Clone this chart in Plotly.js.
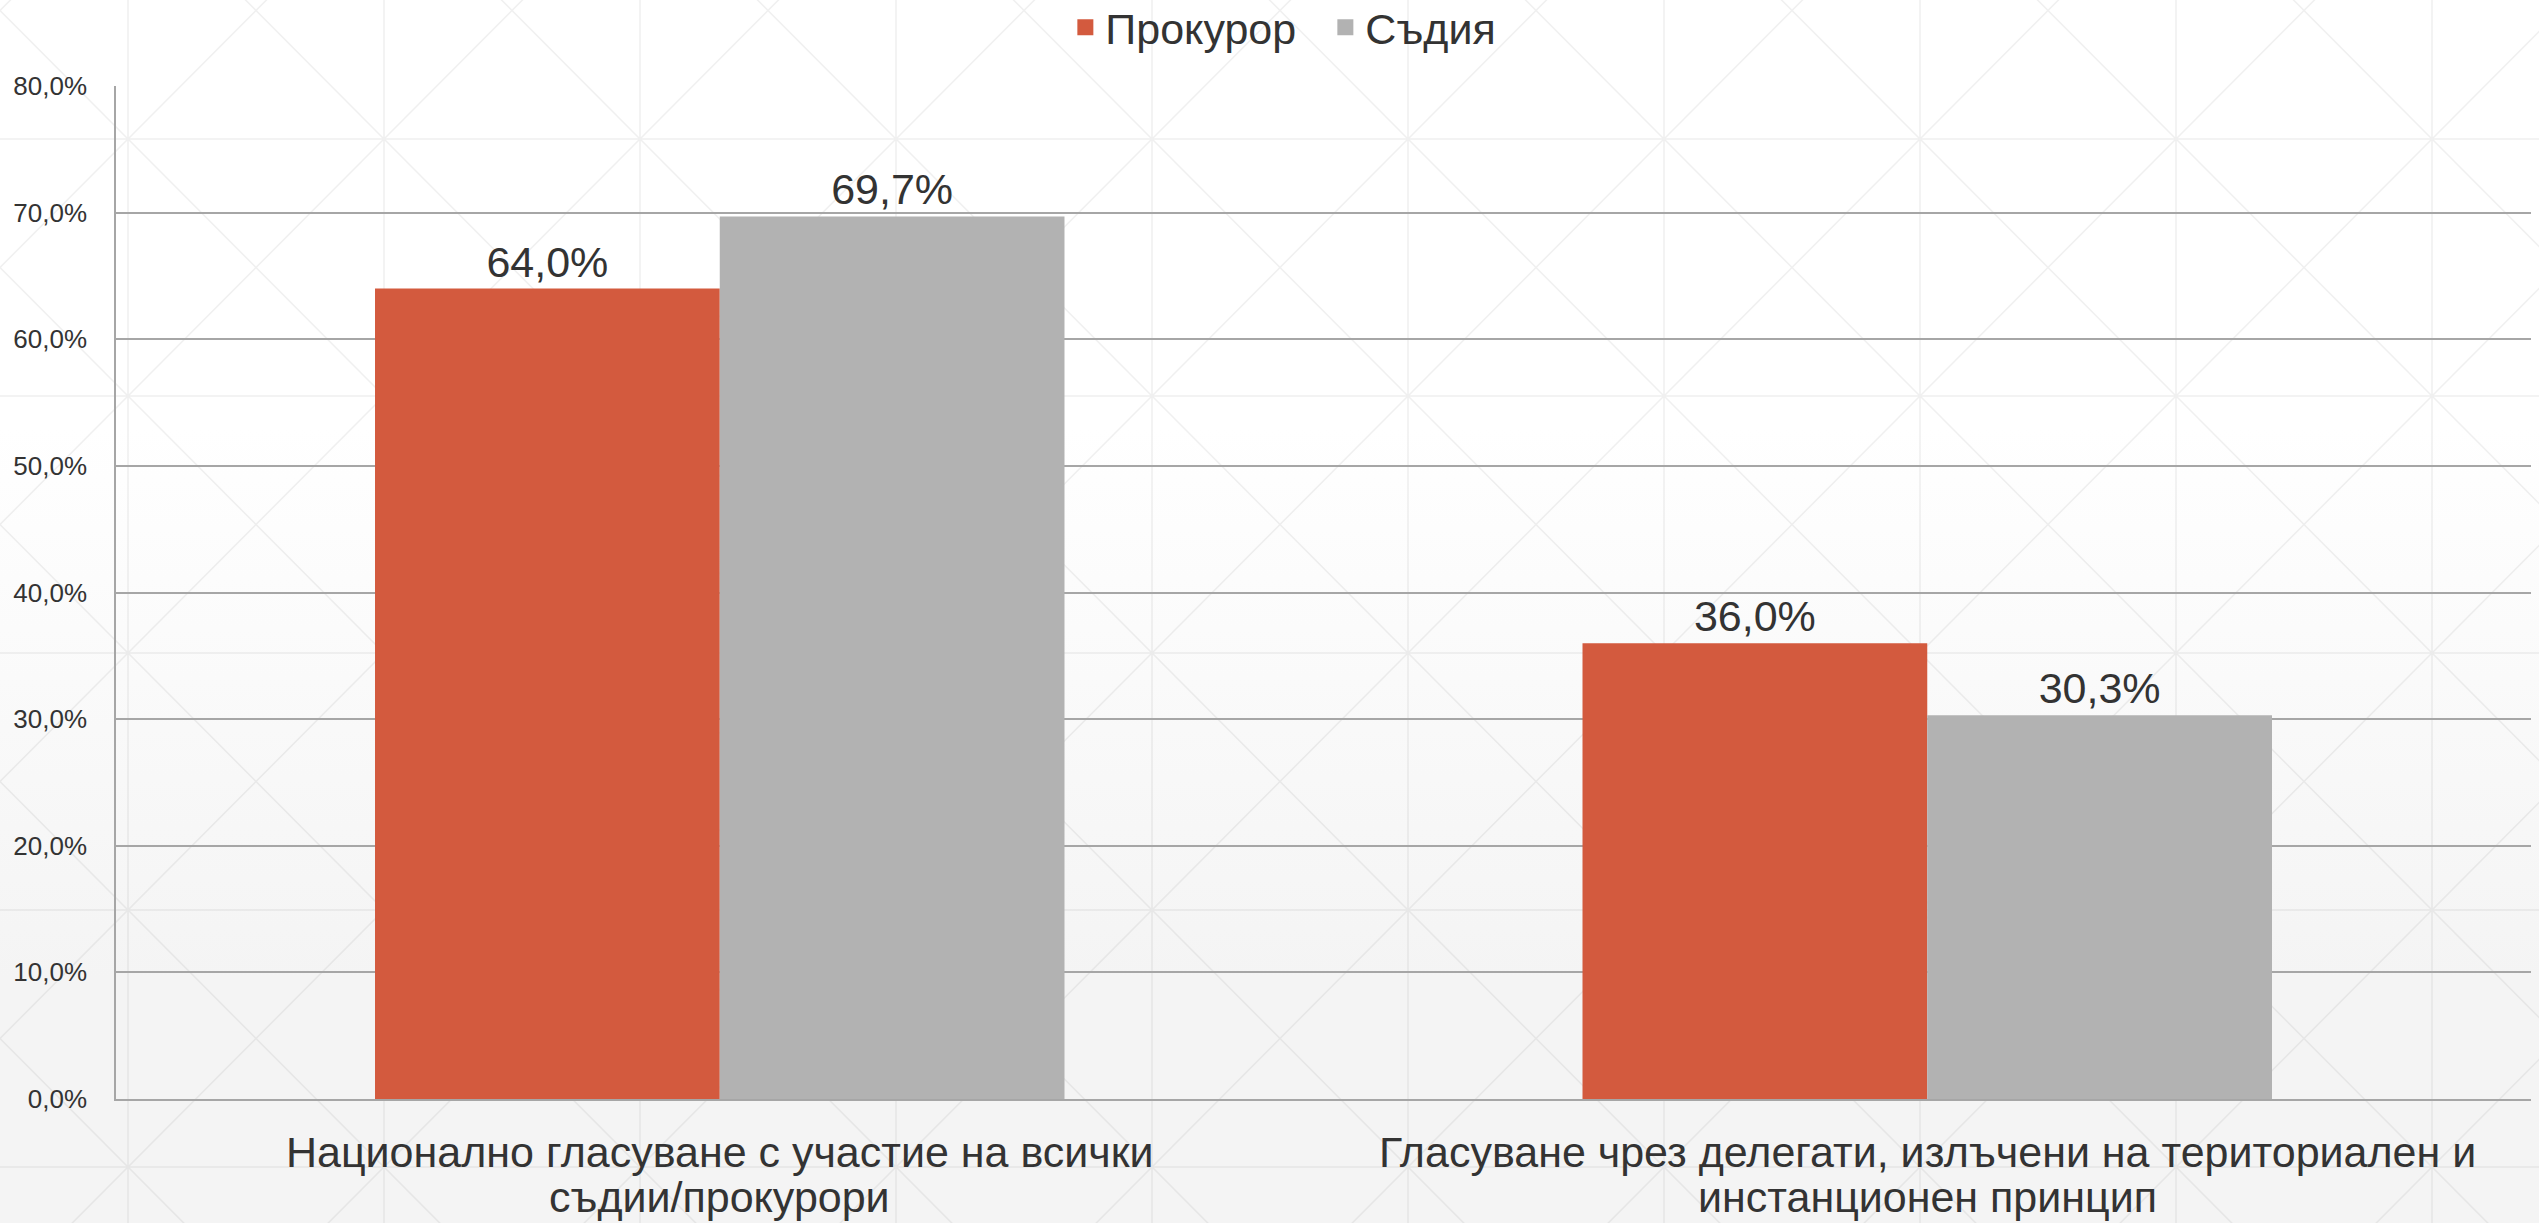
<!DOCTYPE html>
<html>
<head>
<meta charset="utf-8">
<script src="https://cdn.plot.ly/plotly-3.0.1.min.js"></script>
<style>
html, body { margin: 0; padding: 0; background: #ffffff; }
#chart {
  width: 2539px; height: 1223px;
  background-image:
    url("data:image/svg+xml,%3Csvg xmlns='http://www.w3.org/2000/svg' width='256' height='257'%3E%3Cg stroke='rgba(0,0,0,0.06)' stroke-width='1.5' fill='none'%3E%3Cpath d='M0 0V257M256 0V257M0 0H256M0 257H256M0 0L256 257M256 0L0 257'/%3E%3C/g%3E%3C/svg%3E"),
    linear-gradient(to bottom, #ffffff 0%, #ffffff 35%, #f4f4f4 80%, #f4f4f4 100%);
  background-position: 128px 139px, 0 0;
  background-size: 256px 257px, 100% 100%;
}
</style>
</head>
<body>
<div id="chart"></div>
<script>
// ---- data ----
const categories = [
  "Национално гласуване с участие на всички<br>съдии/прокурори",
  "Гласуване чрез делегати, излъчени на териториален и<br>инстанционен принцип"
];
const seriesNames = ["Прокурор", "Съдия"];
const prosecutorValues = [0.640, 0.360];
const judgeValues = [0.697, 0.303];
const seriesColors = ["#D35A3E", "#B2B2B2"];
const yTickValues = [0, 0.1, 0.2, 0.3, 0.4, 0.5, 0.6, 0.7, 0.8];

const FONT = "Liberation Sans, Arial, sans-serif";
const TEXT = "#333333";

const traces = [prosecutorValues, judgeValues].map((vals, i) => ({
  type: "bar",
  name: seriesNames[i],
  legendgroup: seriesNames[i],
  showlegend: false,
  x: categories,
  y: vals,
  marker: { color: seriesColors[i] },
  texttemplate: "%{y:.1%}",
  textposition: "outside",
  textfont: { family: FONT, size: 43, color: TEXT },
  cliponaxis: false,
  hoverinfo: "skip"
}));

// legend entries with larger square swatches
seriesNames.forEach((name, i) => {
  traces.push({
    type: "scatter",
    mode: "markers",
    name: name,
    legendgroup: name,
    showlegend: true,
    x: [null], y: [null],
    marker: { symbol: "square", size: 20, color: seriesColors[i] },
    hoverinfo: "skip"
  });
});

// category labels drawn line by line below the axis
const annotations = [];
categories.forEach(cat => {
  cat.split("<br>").forEach((line, j) => {
    annotations.push({
      x: cat, y: 0, xref: "x", yref: "y",
      text: line, showarrow: false,
      xanchor: "center", yanchor: "middle",
      yshift: -53 - 45 * j,
      font: { family: FONT, size: 43, color: TEXT }
    });
  });
});

const layout = {
  width: 2539, height: 1223,
  margin: { l: 116, r: 8, t: 86, b: 124, autoexpand: false },
  paper_bgcolor: "rgba(0,0,0,0)",
  plot_bgcolor: "rgba(0,0,0,0)",
  separators: ",.",
  font: { family: FONT, color: TEXT },
  barmode: "group",
  bargap: 0.429,
  bargroupgap: 0,
  showlegend: true,
  legend: {
    orientation: "h",
    xref: "container", yref: "paper",
    x: 0.522, xanchor: "center",
    y: 1.092, yanchor: "top",
    font: { family: FONT, size: 43, color: TEXT },
    bgcolor: "rgba(0,0,0,0)",
    traceorder: "normal",
    itemsizing: "trace",
    itemwidth: 30,
    entrywidth: 215
  },
  xaxis: {
    type: "category",
    showticklabels: false,
    showgrid: false,
    showline: true, linecolor: "#a6a6a6", linewidth: 1.5,
    ticks: "",
    fixedrange: true
  },
  yaxis: {
    range: [0, 0.8],
    tickvals: yTickValues,
    tickformat: ".1%",
    showgrid: true, gridcolor: "#a6a6a6", gridwidth: 1.5,
    showline: true, linecolor: "#a6a6a6", linewidth: 1.5,
    zeroline: false,
    ticks: "",
    ticklabelstandoff: 22,
    tickfont: { family: FONT, size: 26, color: TEXT },
    fixedrange: true
  },
  annotations: annotations
};

Plotly.newPlot("chart", traces, layout, { displayModeBar: false, responsive: false });
</script>
</body>
</html>
